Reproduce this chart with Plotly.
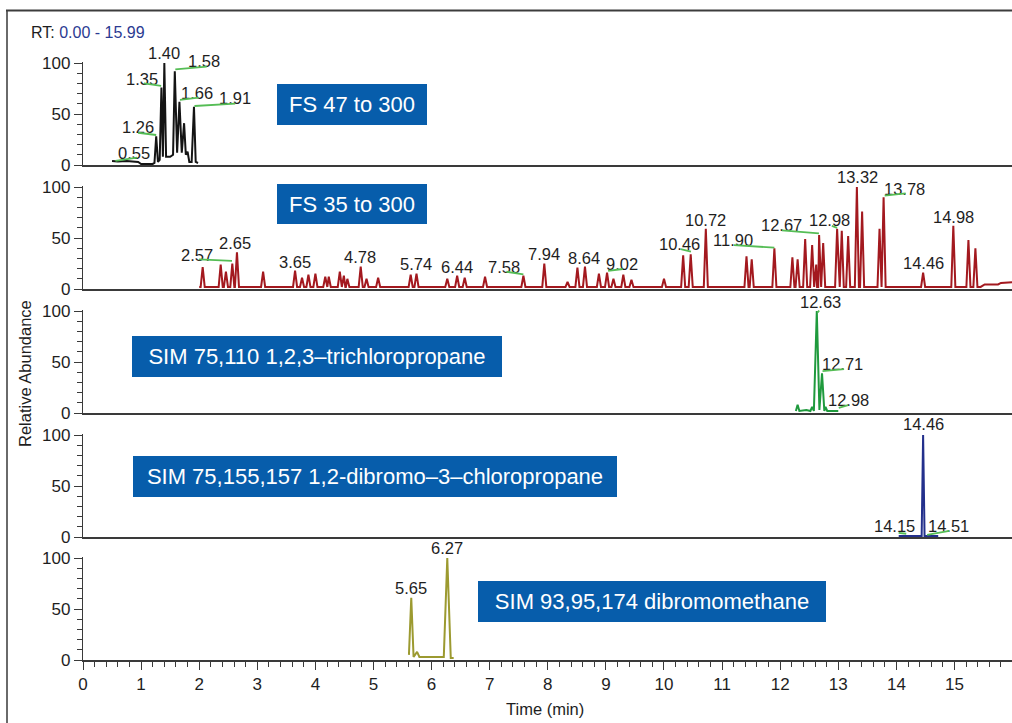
import plotly.graph_objects as go

# ------------------------------------------------------------------ data
# Panel 1 : FS 47 to 300  (chromatogram vertices, min / % abundance)
fs47_time = [0.50, 0.60, 0.75, 0.95, 1.00, 1.20, 1.23, 1.26, 1.29, 1.32, 1.35, 1.375,
             1.40, 1.43, 1.50, 1.55, 1.58, 1.62, 1.66, 1.70, 1.74, 1.77, 1.80, 1.83,
             1.87, 1.91, 1.94, 1.98]
fs47_abund = [4, 3.5, 4, 3, 1, 1, 2, 28, 3, 5, 76, 8,
              100, 8, 8, 10, 92, 12, 62, 12, 41, 10, 13, 3,
              3, 57, 3, 2]

# Panel 2 : FS 35 to 300  (peak apex times / heights + baseline)
fs35_peak_time = [2.06, 2.37, 2.46, 2.57, 2.65, 3.10, 3.65, 3.77, 3.88, 4.00, 4.17, 4.23,
                  4.42, 4.49, 4.55, 4.78, 4.88, 5.08, 5.64, 5.74, 6.27, 6.44, 6.57, 6.92,
                  7.58, 7.94, 8.34, 8.51, 8.64, 8.88, 9.02, 9.13, 9.30, 9.44, 10.00, 10.33,
                  10.46, 10.72, 11.42, 11.51, 11.90, 12.21, 12.30, 12.43, 12.55, 12.62, 12.67,
                  12.74, 12.98, 13.06, 13.17, 13.32, 13.41, 13.71, 13.78, 14.46, 14.98, 15.24,
                  15.36]
fs35_peak_abund = [21.5, 24, 17, 25, 36, 17, 18, 11, 14, 15, 12, 12,
                   17, 13, 10, 22, 10, 11, 14, 15, 10, 13, 11, 12,
                   13, 25, 7, 21, 22, 15, 16, 10, 14, 9, 10, 33,
                   34, 59, 32, 29, 40, 31, 29, 49, 43, 24, 53,
                   45, 59, 57, 52, 100, 76, 59, 90, 16, 62, 48,
                   40]
fs35_base_time = [2.00, 15.45, 15.52, 15.75, 15.80, 15.99]
fs35_base_abund = [2, 2, 4.5, 4.5, 6, 6.5]

# Panel 3 : SIM 75,110 1,2,3-trichloropropane
sim110_time = [12.27, 12.30, 12.33, 12.45, 12.52, 12.55, 12.58, 12.63, 12.675, 12.72,
               12.76, 12.78, 12.81, 13.00]
sim110_abund = [2, 8, 2, 3, 2, 6, 2, 100, 3, 39, 2, 6, 2, 2]

# Panel 4 : SIM 75,155,157 1,2-dibromo-3-chloropropane
sim155_time = [14.04, 14.435, 14.46, 14.485, 14.72]
sim155_abund = [1, 1, 100, 1, 1]

# Panel 5 : SIM 93,95,174 dibromomethane
sim93_time = [5.61, 5.65, 5.69, 5.75, 5.79, 6.21, 6.27, 6.33, 6.38]
sim93_abund = [5, 61, 3, 8, 3, 3, 100, 2, 2]

# Peak labels: text, label x (min), label y (%)
p1_lab_text = ["0.55", "1.26", "1.35", "1.40", "1.58", "1.66", "1.91"]
p1_lab_x = [0.87, 0.94, 1.01, 1.40, 2.09, 1.96, 2.62]
p1_lab_y = [11.5, 37, 84.5, 109.5, 101.5, 71, 66]
# leader lines: from (x0,y0) to (x1,y1)
p1_lead = [(0.55, 3.9, 0.93, 7.2), (0.94, 31.7, 1.26, 29.4), (1.04, 80, 1.345, 77.5),
           (1.58, 93.8, 2.13, 96.4), (1.66, 63.7, 1.99, 66), (1.91, 57.8, 2.62, 60.1)]

p2_lab_text = ["2.57", "2.65", "3.65", "4.78", "5.74", "6.44", "7.58", "7.94", "8.64",
               "9.02", "10.46", "10.72", "11.90", "12.67", "12.98", "13.32", "13.78",
               "14.46", "14.98"]
p2_lab_x = [1.97, 2.62, 3.655, 4.765, 5.735, 6.43, 7.25, 7.935, 8.625,
            9.27, 10.26, 10.71, 11.195, 12.02, 12.85, 13.33, 14.14,
            14.46, 14.99]
p2_lab_y = [33.3, 44.8, 26.8, 31.7, 24.2, 21.9, 21.9, 34, 30.7,
            24.2, 43.8, 67.6, 48, 62.7, 67.6, 110, 98.3,
            25.2, 70.3]
p2_lead = [(1.99, 29.1, 2.565, 27.5), (7.28, 17, 7.58, 14.4), (9.03, 17.6, 9.29, 19.6),
           (10.28, 39.2, 10.465, 36.6), (11.195, 43.1, 11.9, 40.5), (12.02, 57.5, 12.667, 54.6),
           (12.88, 62, 12.98, 60), (13.79, 91.5, 14.16, 93.8)]

p3_lab_text = ["12.63", "12.71", "12.98"]
p3_lab_x = [12.69, 13.07, 13.17]
p3_lab_y = [109, 48, 12.7]
p3_lead = [(12.64, 98, 12.67, 100.5), (12.72, 41, 13.10, 43), (13.00, 4.9, 13.17, 7.8)]

p4_lab_text = ["14.46", "14.15", "14.51"]
p4_lab_x = [14.46, 13.97, 14.89]
p4_lab_y = [110.5, 11, 11]
p4_lead = [(14.03, 4.2, 14.17, 3.2), (14.52, 2, 14.91, 5.9)]

p5_lab_text = ["5.65", "6.27"]
p5_lab_x = [5.64, 6.27]
p5_lab_y = [70.6, 110]
p5_lead = []

box_text = ["FS 47 to 300", "FS 35 to 300", "SIM 75,110 1,2,3–trichloropropane",
            "SIM 75,155,157 1,2-dibromo–3–chloropropane", "SIM 93,95,174 dibromomethane"]

x_ticks = list(range(0, 16))
y_ticks = [0, 50, 100]

# ------------------------------------------------------------------ build peaks for panel 2
def build_trace(peak_t, peak_h, base_t, base_h, half_w):
    pts = list(zip(base_t, base_h))
    for t, h in zip(peak_t, peak_h):
        pts += [(t - half_w, base_h[0]), (t, h), (t + half_w, base_h[0])]
    pts.sort(key=lambda p: p[0])
    return [p[0] for p in pts], [p[1] for p in pts]

fs35_time, fs35_abund = build_trace(fs35_peak_time, fs35_peak_abund,
                                    fs35_base_time, fs35_base_abund, 0.035)

# ------------------------------------------------------------------ layout constants
W, H = 1012, 723
ML = 83
PW = W - ML
zero_px = [165, 289, 413, 537, 660]
unit_px = 1.02
YMAX = 101
FONT = "Liberation Sans, Arial, sans-serif"
TXT = "#1e1e1e"
AXC = "#3a3a3a"
LEAD = "#55bd55"
BOXC = "#075dab"
LABEL_SIZE = 16.5

colors = ["#141414", "#a3191f", "#1f9a3d", "#23308c", "#9c9a30"]
series = [(fs47_time, fs47_abund), (fs35_time, fs35_abund), (sim110_time, sim110_abund),
          (sim155_time, sim155_abund), (sim93_time, sim93_abund)]
labels = [(p1_lab_text, p1_lab_x, p1_lab_y, p1_lead),
          (p2_lab_text, p2_lab_x, p2_lab_y, p2_lead),
          (p3_lab_text, p3_lab_x, p3_lab_y, p3_lead),
          (p4_lab_text, p4_lab_x, p4_lab_y, p4_lead),
          (p5_lab_text, p5_lab_x, p5_lab_y, p5_lead)]
# box centre (px), width, height
box_geom = [(352, 104.5, 150, 41), (352, 204, 150, 40), (317, 356.5, 370, 41),
            (375, 476.5, 484, 41), (652, 601.5, 348, 41)]

def px2paper_x(px):
    return (px - ML) / PW

def px2paper_y(py):
    return (H - py) / H

fig = go.Figure()
layout = dict(
    width=W, height=H, template="none",
    margin=dict(l=ML, r=0, t=0, b=0),
    paper_bgcolor="white", plot_bgcolor="white",
    showlegend=False,
    font=dict(family=FONT, size=16, color=TXT),
)
annotations = []

for k in range(5):
    n = "" if k == 0 else str(k + 1)
    xs, ys = series[k]
    fig.add_trace(go.Scatter(x=xs, y=ys, mode="lines",
                             line=dict(color=colors[k], width=2),
                             xaxis="x" + n, yaxis="y" + n, hoverinfo="skip"))
    d0 = px2paper_y(zero_px[k])
    d1 = px2paper_y(zero_px[k] - unit_px * YMAX)
    bottom = (k == 4)
    xa = dict(domain=[0, 1], range=[0, 15.99], anchor="y" + n,
              showline=True, linecolor=AXC, linewidth=1.8,
              showgrid=False, zeroline=False, automargin=False,
              showticklabels=bottom)
    if bottom:
        xa.update(ticks="outside", tick0=0, dtick=1, ticklen=8, tickwidth=1.3,
                  tickcolor=AXC, tickfont=dict(family=FONT, size=17, color=TXT),
                  minor=dict(ticks="outside", dtick=0.2, tick0=0, ticklen=5,
                             tickwidth=1.3, tickcolor=AXC, showgrid=False))
    else:
        xa.update(ticks="", matches="x")
    ya = dict(domain=[d0, d1], range=[0, YMAX], anchor="x" + n,
              showline=True, linecolor=AXC, linewidth=1.3,
              showgrid=False, zeroline=False, automargin=False,
              ticks="outside", tickvals=y_ticks, ticklen=8, tickwidth=1.3,
              tickcolor=AXC, tickfont=dict(family=FONT, size=17, color=TXT),
              minor=dict(ticks="outside", dtick=10, tick0=0, ticklen=5,
                         tickwidth=1.3, tickcolor=AXC, showgrid=False))
    layout["xaxis" + n] = xa
    layout["yaxis" + n] = ya

    txt, lx, ly, leads = labels[k]
    for t, x, y in zip(txt, lx, ly):
        yy = min(y, 100)
        shift = (y - yy) * unit_px
        annotations.append(dict(x=x, y=yy, yshift=shift, xref="x" + n, yref="y" + n, text=t,
                                showarrow=False, xanchor="center", yanchor="middle",
                                font=dict(family=FONT, size=LABEL_SIZE, color=TXT)))
    for (x0, y0, x1, y1) in leads:
        annotations.append(dict(x=x1, y=y1, ax=x0, ay=y0, xref="x" + n, yref="y" + n,
                                axref="x" + n, ayref="y" + n, text="",
                                showarrow=True, arrowhead=0, arrowwidth=1.8,
                                arrowcolor=LEAD, standoff=0, startstandoff=0,
                                borderpad=0))
    cx, cy, bw, bh = box_geom[k]
    annotations.append(dict(x=px2paper_x(cx), y=px2paper_y(cy), xref="paper", yref="paper",
                            text=box_text[k], showarrow=False, width=bw, height=bh,
                            bgcolor=BOXC, borderpad=0, borderwidth=0,
                            xanchor="center", yanchor="middle", align="center", valign="middle",
                            font=dict(family=FONT, size=22, color="white")))

# RT range text
annotations.append(dict(x=px2paper_x(29), y=px2paper_y(33), xref="paper", yref="paper",
                        xanchor="left", yanchor="middle", showarrow=False,
                        text="RT: <span style='color:#2b3a92'>0.00 - 15.99</span>",
                        font=dict(family=FONT, size=16, color=TXT)))
# axis titles
annotations.append(dict(x=px2paper_x(25), y=px2paper_y(374), xref="paper", yref="paper",
                        xanchor="center", yanchor="middle", showarrow=False, textangle=-90,
                        text="Relative Abundance", font=dict(family=FONT, size=16.5, color=TXT)))
annotations.append(dict(x=px2paper_x(545), y=px2paper_y(709), xref="paper", yref="paper",
                        xanchor="center", yanchor="middle", showarrow=False,
                        text="Time (min)", font=dict(family=FONT, size=16.5, color=TXT)))

layout["annotations"] = annotations
layout["shapes"] = [
    dict(type="line", xref="paper", yref="paper", x0=px2paper_x(7), x1=px2paper_x(7),
         y0=px2paper_y(10), y1=px2paper_y(723), line=dict(color="#6a6a6a", width=2)),
    dict(type="line", xref="paper", yref="paper", x0=px2paper_x(6), x1=px2paper_x(1012),
         y0=px2paper_y(10.5), y1=px2paper_y(10.5), line=dict(color="#3c3c3c", width=2.2)),
]
fig.update_layout(**layout)
fig.write_html("out.html",
               config={"displayModeBar": False},
               post_script="document.body.style.margin='0px';"
                           "document.body.style.overflow='hidden';")
